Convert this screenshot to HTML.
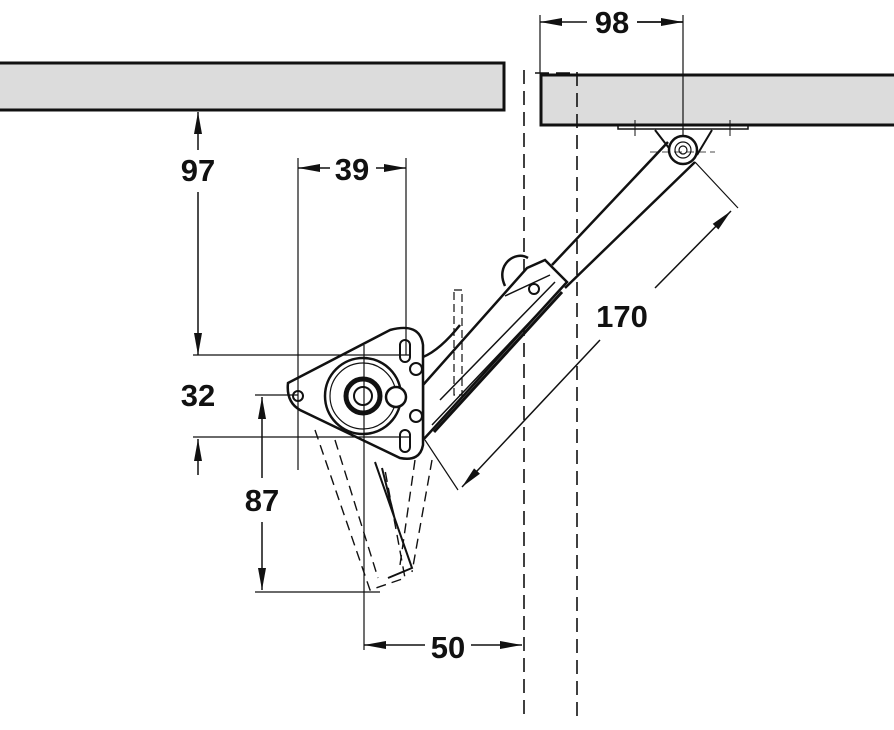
<!DOCTYPE html>
<html><head><style>html,body{margin:0;padding:0;background:#fff}svg{display:block}</style></head>
<body>
<svg width="894" height="730" viewBox="0 0 894 730" xmlns="http://www.w3.org/2000/svg" font-family="Liberation Sans, sans-serif" font-weight="bold">
<defs>
<marker id="a" viewBox="0 0 22 10" refX="22" refY="5" markerWidth="22" markerHeight="10" markerUnits="userSpaceOnUse" orient="auto-start-reverse"><path d="M0,1 L22,5 L0,9z" fill="#111"/></marker>
</defs>
<g stroke="#111" fill="none">
<rect x="-2" y="63" width="506" height="47" fill="#dcdcdc" stroke-width="3"/>
<path d="M894,75 H541 V125 H894" fill="#dcdcdc" stroke-width="3"/>
<path d="M524,70 V720 M577,72 V720 M535,73 H572" stroke-width="1.6" stroke-dasharray="14,7"/>
<path d="M540,15 V73 M683,15 V150" stroke-width="1.2"/>
<path d="M540,22 H587 M637,22 H683" stroke-width="1.5" marker-start="url(#a)"/>
<path d="M637,22 H683" stroke-width="1.5" marker-end="url(#a)"/>
<rect x="618" y="125" width="130" height="4" stroke-width="1.5"/>
<path d="M635,120 V136 M730,120 V136" stroke-width="1"/>
<path d="M655,130 L672,152 M712,130 L697,155" stroke-width="2"/>
<circle cx="683" cy="150" r="14" stroke-width="2.5" fill="#fff"/>
<circle cx="683" cy="150" r="8" stroke-width="1.2"/><circle cx="683" cy="150" r="4" stroke-width="1.2"/>
<path d="M650,152 H715" stroke-width="0.8" stroke-dasharray="8,4"/>
<path d="M668,142 L552,265 M695,162 L565,288" stroke-width="2.5"/>
<path d="M505,286 C495,265 515,250 528,258" stroke-width="2.5"/>
<path d="M527,268 L545,260 L567,282 L423,440 L423,385 Z" stroke-width="2.5" fill="#fff"/>
<path d="M505,296 L550,275 M440,400 L555,282 M432,425 L560,290" stroke-width="1.5"/>
<path d="M434,432 L562,292" stroke-width="3"/>
<circle cx="534" cy="289" r="5" stroke-width="2"/>
<path d="M695,162 L738,208 M425,440 L458,490" stroke-width="1.2"/>
<path d="M731,211 L655,288" stroke-width="1.5" marker-start="url(#a)"/>
<path d="M600,340 L462,487" stroke-width="1.5" marker-end="url(#a)"/>
<path d="M454,290 H462 V395 H454 Z" stroke-width="1.2" stroke-dasharray="8,4"/>
<path d="M315,430 L370,590 L405,578 L385,470 M335,440 L378,578 M415,460 L400,565 M432,460 L412,572" stroke-width="1.4" stroke-dasharray="10,6"/>
<path d="M375,462 L412,568 L388,578 M382,468 L395,520" stroke-width="2"/>
<path d="M288,383 L390,330 Q420,322 423,345 L423,445 Q420,462 400,458 L300,410 Q286,402 288,383 Z" stroke-width="2.5" fill="#fff"/>
<path d="M423,357 Q440,350 460,325" stroke-width="2.5"/>
<circle cx="298" cy="396" r="5" stroke-width="2"/>
<circle cx="363" cy="396" r="38" stroke-width="2.5"/>
<circle cx="363" cy="396" r="33" stroke-width="1.2"/>
<circle cx="363" cy="396" r="17" stroke-width="5"/>
<circle cx="363" cy="396" r="9" stroke-width="2"/>
<circle cx="396" cy="397" r="10" stroke-width="2.5" fill="#fff"/>
<rect x="400" y="340" width="10" height="22" rx="5" stroke-width="2"/>
<rect x="400" y="430" width="10" height="22" rx="5" stroke-width="2"/>
<circle cx="416" cy="369" r="6" stroke-width="2"/>
<circle cx="416" cy="416" r="6" stroke-width="2"/>
<path d="M193,355 H410 M193,437 H410 M255,395 H298 M255,592 H380" stroke-width="1.2"/>
<path d="M298,158 V470 M406,158 V355 M364,345 V650" stroke-width="1.2"/>
<path d="M198,150 V112" stroke-width="1.5" marker-end="url(#a)"/>
<path d="M198,192 V355" stroke-width="1.5" marker-end="url(#a)"/>
<path d="M198,475 V439" stroke-width="1.5" marker-end="url(#a)"/>
<path d="M330,168 H298" stroke-width="1.5" marker-end="url(#a)"/>
<path d="M376,168 H406" stroke-width="1.5" marker-end="url(#a)"/>
<path d="M262,478 V397" stroke-width="1.5" marker-end="url(#a)"/>
<path d="M262,522 V590" stroke-width="1.5" marker-end="url(#a)"/>
<path d="M425,645 H364" stroke-width="1.5" marker-end="url(#a)"/>
<path d="M471,645 H522" stroke-width="1.5" marker-end="url(#a)"/>
</g>
<g font-size="31" fill="#111" text-anchor="middle">
<text x="612" y="33">98</text>
<text x="198" y="181">97</text>
<text x="352" y="180">39</text>
<text x="198" y="406">32</text>
<text x="262" y="511">87</text>
<text x="448" y="658">50</text>
<text x="622" y="327">170</text>
</g>
</svg>
</body></html>
